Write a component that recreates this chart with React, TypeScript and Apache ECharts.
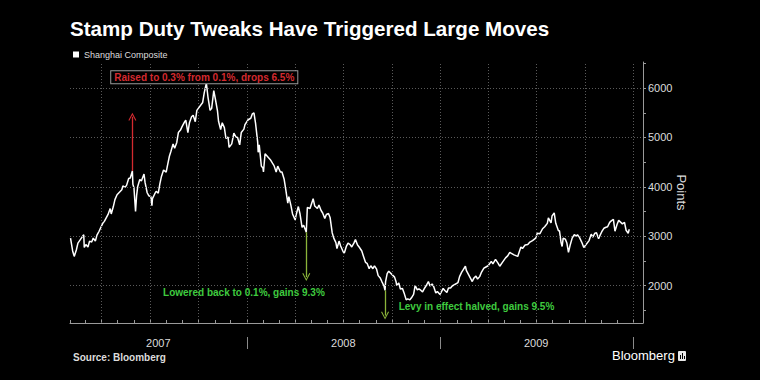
import React, { useEffect, useRef } from 'react';
import * as echarts from 'echarts';

const chartTitle = 'Stamp Duty Tweaks Have Triggered Large Moves';
const seriesName = 'Shanghai Composite';
const sourceText = 'Source: Bloomberg';
const axisName = 'Points';

const dates = [
  '2007-02-01','2007-02-05','2007-02-08','2007-02-12','2007-02-15','2007-02-26','2007-02-27','2007-03-02','2007-03-06','2007-03-09',
  '2007-03-13','2007-03-16','2007-03-20','2007-03-23','2007-03-27','2007-03-30','2007-04-03','2007-04-06','2007-04-10','2007-04-13',
  '2007-04-17','2007-04-19','2007-04-23','2007-04-26','2007-04-30','2007-05-09','2007-05-11','2007-05-15','2007-05-18','2007-05-22',
  '2007-05-25','2007-05-29','2007-05-30','2007-06-01','2007-06-04','2007-06-06','2007-06-08','2007-06-12','2007-06-15','2007-06-20',
  '2007-06-22','2007-06-26','2007-06-29','2007-07-03','2007-07-05','2007-07-06','2007-07-10','2007-07-13','2007-07-17','2007-07-20',
  '2007-07-23','2007-07-27','2007-08-01','2007-08-03','2007-08-07','2007-08-10','2007-08-14','2007-08-17','2007-08-21','2007-08-24',
  '2007-08-28','2007-08-31','2007-09-05','2007-09-07','2007-09-11','2007-09-14','2007-09-18','2007-09-21','2007-09-25','2007-09-28',
  '2007-10-09','2007-10-12','2007-10-16','2007-10-19','2007-10-23','2007-10-26','2007-10-30','2007-11-02','2007-11-06','2007-11-08',
  '2007-11-12','2007-11-15','2007-11-19','2007-11-22','2007-11-26','2007-11-28','2007-12-03','2007-12-07','2007-12-11','2007-12-14',
  '2007-12-18','2007-12-21','2007-12-26','2007-12-28',
  '2008-01-03','2008-01-08','2008-01-11','2008-01-14','2008-01-17','2008-01-21','2008-01-22','2008-01-24','2008-01-28','2008-01-31',
  '2008-02-01','2008-02-04','2008-02-14','2008-02-18','2008-02-21','2008-02-25','2008-02-28','2008-03-04','2008-03-07','2008-03-11',
  '2008-03-14','2008-03-18','2008-03-20','2008-03-24','2008-03-27','2008-04-01','2008-04-03','2008-04-07','2008-04-10','2008-04-14',
  '2008-04-17','2008-04-22','2008-04-24','2008-04-29','2008-05-05','2008-05-08','2008-05-13','2008-05-16','2008-05-20','2008-05-23',
  '2008-05-27','2008-05-30','2008-06-03','2008-06-06','2008-06-10','2008-06-13','2008-06-17','2008-06-19','2008-06-23','2008-06-26',
  '2008-07-01','2008-07-03','2008-07-07','2008-07-10','2008-07-14','2008-07-17','2008-07-21','2008-07-24','2008-07-28','2008-07-31',
  '2008-08-05','2008-08-08','2008-08-12','2008-08-15','2008-08-19','2008-08-22','2008-08-26','2008-08-29','2008-09-02','2008-09-05',
  '2008-09-09','2008-09-12','2008-09-16','2008-09-18','2008-09-19','2008-09-22','2008-09-25','2008-10-06','2008-10-09','2008-10-10',
  '2008-10-14','2008-10-17','2008-10-21','2008-10-24','2008-10-28','2008-10-31','2008-11-04','2008-11-07','2008-11-11','2008-11-14',
  '2008-11-18','2008-11-21','2008-11-25','2008-11-28','2008-12-02','2008-12-05','2008-12-09','2008-12-12','2008-12-16','2008-12-19',
  '2008-12-23','2008-12-26','2008-12-31',
  '2009-01-06','2009-01-09','2009-01-13','2009-01-16','2009-01-20','2009-01-23','2009-02-03','2009-02-06','2009-02-10','2009-02-13',
  '2009-02-17','2009-02-19','2009-02-24','2009-03-02','2009-03-05','2009-03-09','2009-03-12','2009-03-16','2009-03-19','2009-03-24',
  '2009-03-27','2009-04-01','2009-04-07','2009-04-10','2009-04-15','2009-04-20','2009-04-23','2009-04-28','2009-05-04','2009-05-08',
  '2009-05-12','2009-05-15','2009-05-20','2009-05-27','2009-06-02','2009-06-05','2009-06-10','2009-06-15','2009-06-19','2009-06-24',
  '2009-06-30','2009-07-03','2009-07-08','2009-07-13','2009-07-17','2009-07-22','2009-07-24','2009-07-29','2009-07-31','2009-08-04',
  '2009-08-07','2009-08-12','2009-08-14','2009-08-17','2009-08-19','2009-08-21','2009-08-25','2009-08-28','2009-08-31','2009-09-03',
  '2009-09-07','2009-09-11','2009-09-15','2009-09-17','2009-09-21','2009-09-25','2009-09-29','2009-10-09','2009-10-13','2009-10-16',
  '2009-10-20','2009-10-23','2009-10-27','2009-10-29','2009-11-02','2009-11-06','2009-11-10','2009-11-13','2009-11-17','2009-11-20',
  '2009-11-24','2009-11-27','2009-12-01','2009-12-04','2009-12-08','2009-12-11','2009-12-15','2009-12-18','2009-12-22','2009-12-24'
];

const values = [
  2960,2700,2590,2720,2860,3030,2770,2830,2780,2900,
  2880,2960,2900,3020,3100,3170,3260,3300,3380,3440,
  3560,3450,3600,3740,3840,3940,4020,3990,4030,4170,
  4180,4320,4050,3980,3500,3820,4000,4150,4120,4260,
  4090,3880,3820,3800,3620,3760,3850,3910,3870,4060,
  4210,4340,4300,4410,4620,4720,4870,4780,4900,5100,
  5150,5220,5320,5350,5100,5300,5420,5450,5320,5550,
  5710,5910,6100,5820,5550,5590,5950,5780,5540,5330,
  5160,5300,5200,4980,5010,4800,4870,5090,5010,5000,
  4850,5100,5170,5260,
  5360,5390,5480,5500,5290,4910,4700,4850,4420,4380,
  4300,4670,4550,4480,4430,4300,4420,4300,4300,4160,
  3960,3670,3800,3620,3450,3330,3440,3600,3460,3180,
  3220,3080,3580,3560,3760,3610,3560,3630,3520,3470,
  3360,3440,3460,3380,3070,2960,2870,2750,2900,2800,
  2680,2660,2800,2860,2830,2780,2860,2930,2820,2780,
  2700,2600,2470,2450,2340,2400,2340,2400,2330,2200,
  2150,2080,1990,1900,2080,2240,2290,2170,2070,2000,
  2050,1930,1940,1850,1710,1730,1710,1750,1820,2000,
  1910,1930,1900,1870,1950,2000,2080,1990,2030,1980,
  1850,1880,1820,
  1940,1900,1860,1950,1950,1990,2060,2180,2270,2320,
  2390,2300,2200,2080,2150,2190,2130,2180,2260,2350,
  2370,2400,2490,2440,2530,2450,2390,2470,2560,2600,
  2670,2650,2620,2590,2780,2750,2820,2830,2880,2910,
  2960,3060,3050,3150,3190,3260,3370,3270,3410,3470,
  3260,3110,3110,2870,2790,2960,2940,2860,2670,2810,
  2960,3030,3000,3030,2970,2880,2770,2910,3040,2980,
  3060,3070,2950,3000,3090,3160,3180,3190,3280,3310,
  3340,3100,3240,3320,3280,3250,3280,3120,3060,3140
];

const yLabelValues = [2000, 3000, 4000, 5000, 6000];
const yTickValues = [1500, 2000, 2500, 3000, 3500, 4000, 4500, 5000, 5500, 6000, 6500];
const quarterLines = [
  '2007-04-01','2007-07-01','2007-10-01','2008-01-01','2008-04-01','2008-07-01',
  '2008-10-01','2009-01-01','2009-04-01','2009-07-01','2009-10-01','2010-01-01'
];
const yearStarts = ['2008-01-01', '2009-01-01', '2010-01-01'];
const yearLabelDates = ['2007-07-17', '2008-07-01', '2009-07-01'];
const xStart = '2007-01-31';
const xEnd = '2010-01-19';

// annotations: arrows [date, fromValue, toValue]
const raiseArrow = ['2007-05-29', 4320, 5420];
const lowerArrow = ['2008-04-22', 3080, 2170];
const levyArrow = ['2008-09-18', 1900, 1390];
const raiseText = 'Raised to 0.3% from 0.1%, drops 6.5%';
const lowerText = 'Lowered back to 0.1%, gains 9.3%';
const levyText = 'Levy in effect halved, gains 9.5%';
const raiseTextAt = ['2007-10-12', 6219];
const lowerTextAt = ['2007-12-26', 1863];
const levyTextAt = ['2009-03-10', 1569];

const ts = (s: string) => {
  const [y, m, d] = s.split('-').map(Number);
  return Date.UTC(y, m - 1, d);
};

const FONT = "'Liberation Sans', Arial, sans-serif";
const RED = '#d42a2f';
const GREEN_ARROW = '#8bb43a';
const GREEN_TEXT = '#3fcb3f';
const chevron = 'path://M0,9 L5,0 L10,9 L8.8,9.6 L5,2.6 L1.2,9.6 Z';

export default function App() {
  const ref = useRef<HTMLDivElement>(null);
  useEffect(() => {
    if (!ref.current) return;
    const chart = echarts.init(ref.current, null, { renderer: 'svg' });

    const monthTicks: number[] = [];
    for (let y = 2007; y <= 2010; y++) {
      for (let m = 0; m < 12; m++) {
        const t = Date.UTC(y, m, 1);
        if (t >= ts('2007-02-01') && t <= ts('2010-01-01')) monthTicks.push(t);
      }
    }

    const arrow = (a: any[], color: string) => [
      { coord: [ts(a[0]), a[1]], symbol: 'none', lineStyle: { color, width: 1.3, type: 'solid' } },
      { coord: [ts(a[0]), a[2]], symbol: chevron, symbolSize: [8, 8] },
    ];
    const textPoint = (at: any[], text: string, color: string, boxed: boolean) => ({
      coord: [ts(at[0]), at[1]],
      symbol: 'rect',
      symbolSize: 1,
      itemStyle: { color: 'rgba(0,0,0,0)' },
      label: {
        show: true,
        position: 'inside',
        formatter: text,
        color,
        fontFamily: FONT,
        fontWeight: 'bold',
        fontSize: 10,
        backgroundColor: boxed ? '#000' : 'transparent',
        borderColor: boxed ? '#9a9a9a' : 'transparent',
        borderWidth: boxed ? 1 : 0,
        padding: boxed ? [1, 3, 1, 3] : 0,
      },
    });

    chart.setOption({
      animation: false,
      backgroundColor: '#000',
      title: {
        text: chartTitle,
        left: 70,
        top: 18,
        padding: 0,
        textStyle: { color: '#fff', fontSize: 20.6, fontWeight: 'bold', fontFamily: FONT },
      },
      legend: {
        data: [seriesName],
        left: 73,
        top: 50,
        padding: 0,
        icon: 'rect',
        itemWidth: 6,
        itemHeight: 6,
        textStyle: { color: '#ddd', fontSize: 9, fontFamily: FONT },
      },
      grid: { left: 70, right: 117, top: 62, bottom: 57, containLabel: false, outerBoundsMode: 'none' },
      xAxis: [
        {
          type: 'value',
          min: ts(xStart),
          max: ts(xEnd),
          axisLine: { show: true, lineStyle: { color: '#9a9a9a', width: 1 } },
          axisTick: { show: true, inside: true, length: 3, customValues: monthTicks, lineStyle: { color: '#9a9a9a' } },
          axisLabel: {
            show: true,
            customValues: yearLabelDates.map(ts),
            formatter: (v: number) => String(new Date(v).getUTCFullYear()),
            color: '#dcdcdc',
            fontSize: 11,
            fontFamily: FONT,
            margin: 14,
          },
          splitLine: { show: false },
        },
        {
          type: 'value',
          min: ts(xStart),
          max: ts(xEnd),
          position: 'bottom',
          offset: 14,
          axisLine: { show: false },
          axisTick: { show: true, length: 12, customValues: yearStarts.map(ts), lineStyle: { color: '#8a8a8a' } },
          axisLabel: { show: false },
          splitLine: { show: false },
        },
      ],
      yAxis: {
        type: 'value',
        position: 'right',
        min: 1240,
        max: 6530,
        name: axisName,
        nameLocation: 'middle',
        nameRotate: -90,
        nameGap: 32,
        nameMoveOverlap: false,
        nameTextStyle: { color: '#dcdcdc', fontSize: 13, fontFamily: FONT },
        axisLine: { show: true, lineStyle: { color: '#9a9a9a', width: 1 } },
        axisTick: { show: true, length: 3, customValues: yTickValues, lineStyle: { color: '#9a9a9a' } },
        axisLabel: {
          customValues: yLabelValues,
          formatter: (v: number) => String(v),
          color: '#dcdcdc',
          fontSize: 11,
          fontFamily: FONT,
          margin: 5,
        },
        splitLine: { show: false },
      },
      series: [
        {
          name: 'grid',
          type: 'line',
          data: [],
          z: 1,
          silent: true,
          markLine: {
            silent: true,
            symbol: 'none',
            label: { show: false },
            lineStyle: { color: '#5a5a5a', type: [1, 2], width: 1 },
            data: [
              ...yLabelValues.map((v) => ({ yAxis: v })),
              ...quarterLines.map((d) => ({ xAxis: ts(d) })),
            ],
          },
        },
        {
          name: seriesName,
          type: 'line',
          z: 3,
          showSymbol: false,
          symbol: 'none',
          color: '#ffffff',
          lineStyle: { color: '#ffffff', width: 1.5 },
          data: dates.map((d, i) => [ts(d), values[i]]),
          markLine: {
            silent: true,
            symbol: ['none', chevron],
            symbolSize: [8, 8],
            label: { show: false },
            data: [arrow(raiseArrow, RED), arrow(lowerArrow, GREEN_ARROW), arrow(levyArrow, GREEN_ARROW)],
          },
          markPoint: {
            silent: true,
            data: [
              textPoint(raiseTextAt, raiseText, RED, true),
              textPoint(lowerTextAt, lowerText, GREEN_TEXT, false),
              textPoint(levyTextAt, levyText, GREEN_TEXT, false),
            ],
          },
        },
      ],
      graphic: [
        {
          type: 'text',
          left: 73,
          top: 352,
          style: { text: sourceText, fill: '#dcdcdc', font: `bold 10px ${FONT}` },
        },
        {
          type: 'text',
          left: 612,
          top: 349,
          style: { text: 'Bloomberg', fill: '#ffffff', font: `13px ${FONT}` },
        },
        {
          type: 'group',
          left: 678,
          top: 351,
          children: [
            { type: 'rect', shape: { x: 0, y: 0, width: 8, height: 10, r: 1 }, style: { fill: '#e8e8e8' } },
            { type: 'rect', shape: { x: 2, y: 4, width: 1, height: 4 }, style: { fill: '#000' } },
            { type: 'rect', shape: { x: 4, y: 2, width: 1, height: 6 }, style: { fill: '#000' } },
            { type: 'rect', shape: { x: 6, y: 5, width: 1, height: 3 }, style: { fill: '#000' } },
          ],
        },
      ],
    });

    return () => chart.dispose();
  }, []);

  return (
    <div style={{ position: 'fixed', left: 0, top: 0, width: 760, height: 380, background: '#000' }}>
      <div ref={ref} style={{ width: 760, height: 380 }} />
    </div>
  );
}
